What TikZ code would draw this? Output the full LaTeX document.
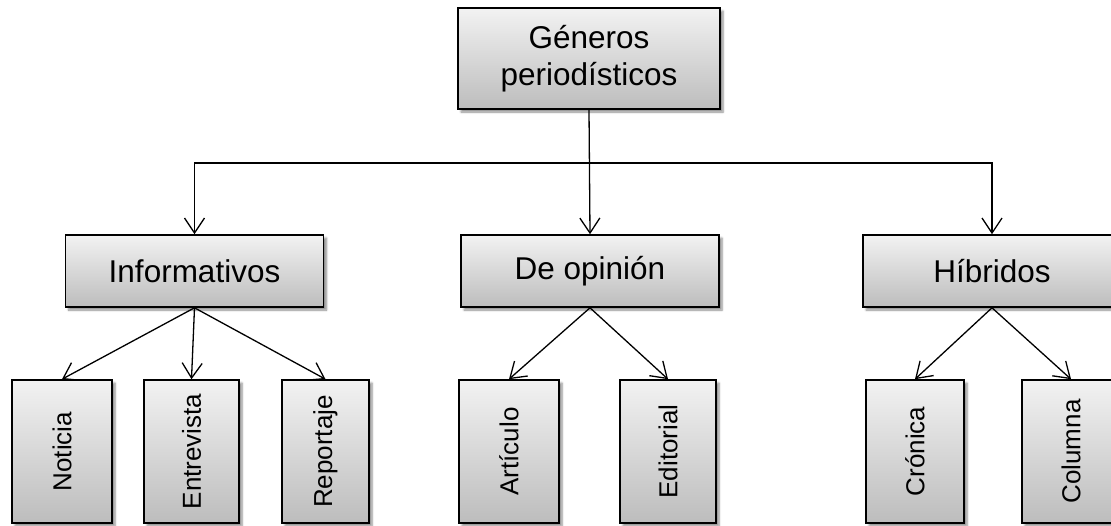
\documentclass[tikz,border=0pt]{standalone}
\usepackage{fontspec}
\setmainfont{Liberation Sans}
\usetikzlibrary{arrows.meta, shadows.blur}

\begin{document}
\begin{tikzpicture}
[x=1pt, y=-1pt,
 box/.style={draw, line width=1.6pt, top color=black!5, bottom color=black!26,
   blur shadow={shadow xshift=3pt, shadow yshift=-3pt, shadow blur steps=6, shadow opacity=45},
   inner sep=0pt, align=center, font=\fontsize{31.5}{37}\selectfont},
 mid/.style={box, minimum width=258pt, minimum height=72pt},
 leaf/.style={box, minimum height=143pt, font=\fontsize{26}{30}\selectfont},
 link/.style={line width=1.3pt, -{Straight Barb[length=15pt, width=20pt]}}]
\useasboundingbox (0,0) rectangle (1111,525);
\node [box, minimum width=262pt, minimum height=101pt] (gen) at (589, 58.5) {Géneros\\periodísticos};
\node [mid] (info) at (194.5, 271) {Informativos};
\node [mid] (opin) at (590, 271) {De opinión};
\node [mid] (hib) at (992, 271) {Híbridos};
\foreach \name/\x/\w/\txt in {noti/62/100/Noticia, entr/191.5/95/Entrevista, repo/325.5/87/Reportaje,
                              arti/509/100/Artículo, edit/668/96/Editorial,
                              cron/915/98/Crónica, colu/1071/98/Columna}{
	\node [leaf, minimum width=\w pt] (\name) at (\x, 451.5) {\rotatebox{90}{\txt}};
}
\coordinate (bus) at (590, 163);
\draw [link] (gen.south) to (opin.north);
\draw [link] (bus) -| (info.north);
\draw [link] (bus) -| (hib.north);

\foreach \leaf in {noti, entr, repo}
	\draw [link] (info.south) to (\leaf.north);
\foreach \leaf in {arti, edit}
	\draw [link] (opin.south) to (\leaf.north);
\foreach \leaf in {cron, colu}
	\draw [link] (hib.south) to (\leaf.north);
\end{tikzpicture}
\end{document}
